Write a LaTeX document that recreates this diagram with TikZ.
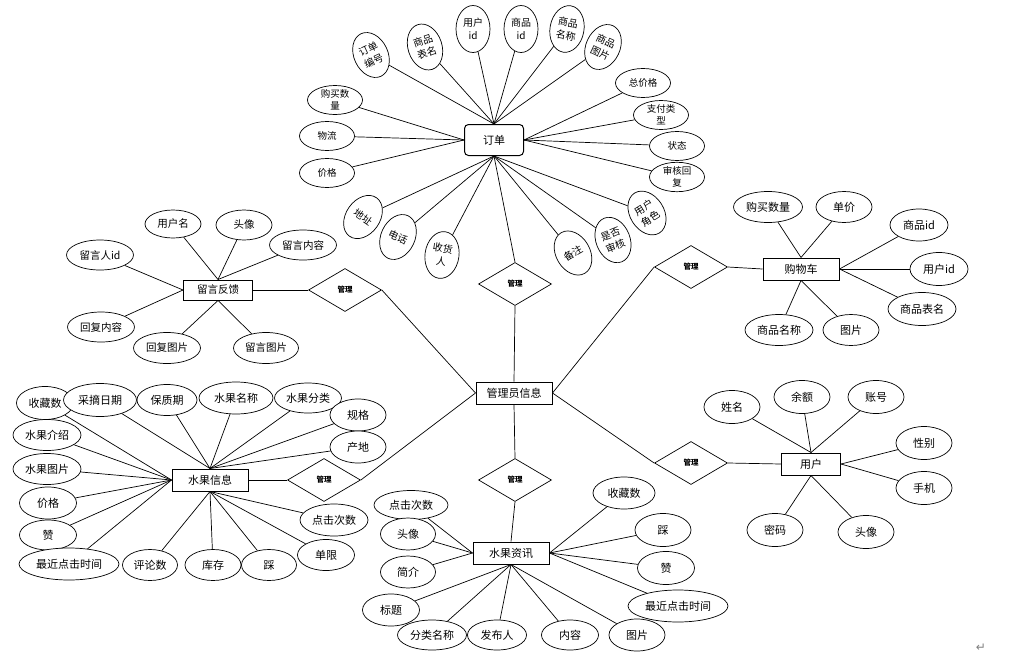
\documentclass[tikz,border=0pt]{standalone}
\usepackage{fontspec}
\setmainfont{Noto Sans CJK SC}
\newfontfamily\symfont{DejaVu Sans}
\usetikzlibrary{shapes.geometric,backgrounds}

\tikzset{
  ent/.style={draw, line width=1pt, fill=white, minimum width=76pt, minimum height=22pt, inner sep=1pt, font=\fontsize{11}{13}\selectfont},
  rel/.style={diamond, draw, line width=0.7pt, fill=white, minimum width=73pt, minimum height=43pt, inner sep=0pt, font=\bfseries\fontsize{7.5}{9}\selectfont},
  attr/.style={ellipse, draw, line width=0.7pt, fill=white, inner sep=0pt, minimum width=56pt, minimum height=31pt, align=center, font=\fontsize{11}{12}\selectfont},
  small/.style={font=\fontsize{9.5}{12}\selectfont},
  tilt/.style={attr, font=\fontsize{10}{13}\selectfont, minimum width=34pt, minimum height=47pt},
  link/.style={line width=0.7pt},
}

\begin{document}
\begin{tikzpicture}[x=1pt, y=-1pt]
\useasboundingbox (0,0) rectangle (1031,664);

\node[ent] (admin) at (514,393) {管理员信息};
\node[rel] (r-order) at (515,284) {管理};
\node[rel] (r-msg) at (345,290) {管理};
\node[rel] (r-fruit) at (324,480) {管理};
\node[rel] (r-cart) at (691,267) {管理};
\node[rel] (r-user) at (691,463) {管理};
\node[rel] (r-news) at (515,480) {管理};

% 订单
\node[ent, rounded corners=4pt, minimum width=59pt, minimum height=31pt] (order) at (494,140) {订单};
\node[tilt, rotate=25] (o-no) at (371,55) {订单\\编号};
\node[tilt, rotate=18] (o-tab) at (425,47) {商品\\表名};
\node[tilt] (o-uid) at (473,29) {用户\\id};
\node[tilt] (o-gid) at (521,29) {商品\\id};
\node[tilt, rotate=-10] (o-gname) at (567,29) {商品\\名称};
\node[tilt, rotate=-25] (o-pic) at (603,47) {商品\\图片};
\node[attr, small, minimum width=55pt, minimum height=29pt] (o-num) at (335,100) {购买数\\量};
\node[attr, small, minimum width=55pt, minimum height=29pt] (o-wl) at (327,136) {物流};
\node[attr, small, minimum width=55pt, minimum height=29pt] (o-price) at (327,173) {价格};
\node[attr, small, minimum width=55pt, minimum height=29pt] (o-total) at (643,83) {总价格};
\node[attr, small, minimum width=55pt, minimum height=29pt] (o-pay) at (661,115) {支付类\\型};
\node[attr, small, minimum width=55pt, minimum height=29pt] (o-state) at (677,146) {状态};
\node[attr, small, minimum width=55pt, minimum height=29pt] (o-audit) at (677,177) {审核回\\复};
\node[tilt, rotate=-35] (o-addr) at (363,217) {地址};
\node[tilt, rotate=-25] (o-tel) at (398,237) {电话};
\node[tilt, rotate=-8] (o-recv) at (442,255) {收货\\人};
\node[tilt, rotate=30] (o-note) at (573,253) {备注};
\node[tilt, rotate=22] (o-chk) at (613,240) {是否\\审核};
\node[tilt, rotate=32] (o-role) at (647,213) {用户\\角色};

% 留言反馈
\node[ent, minimum width=69pt, minimum height=20pt, font=\fontsize{10.5}{12}\selectfont] (msg) at (218,290) {留言反馈};
\node[attr, minimum height=28pt, font=\fontsize{10.5}{12}\selectfont] (m-name) at (173,224) {用户名};
\node[attr, minimum height=30pt, font=\fontsize{10.5}{12}\selectfont] (m-head) at (244,225) {头像};
\node[attr, minimum width=67pt, minimum height=30pt, font=\fontsize{10.5}{12}\selectfont] (m-text) at (303,245) {留言内容};
\node[attr, minimum width=67pt, minimum height=30pt, font=\fontsize{10.5}{12}\selectfont] (m-id) at (100,255) {留言人id};
\node[attr, minimum width=67pt, minimum height=30pt, font=\fontsize{10.5}{12}\selectfont] (m-rtext) at (101,327) {回复内容};
\node[attr, minimum width=67pt, minimum height=31pt, font=\fontsize{10.5}{12}\selectfont] (m-rpic) at (167,348) {回复图片};
\node[attr, minimum width=65pt, minimum height=31pt, font=\fontsize{10.5}{12}\selectfont] (m-pic) at (266,348) {留言图片};

% 购物车
\node[ent] (cart) at (801,269) {购物车};
\node[attr, minimum width=69pt] (c-num) at (768,207) {购买数量};
\node[attr] (c-price) at (844,207) {单价};
\node[attr, minimum width=58pt, minimum height=32pt] (c-gid) at (919,225) {商品id};
\node[attr, minimum width=58pt, minimum height=33pt] (c-uid) at (939,269) {用户id};
\node[attr, minimum width=68pt, minimum height=33pt] (c-tab) at (922,309) {商品表名};
\node[attr, minimum width=68pt] (c-name) at (779,330) {商品名称};
\node[attr] (c-pic) at (851,330) {图片};

% 水果信息
\node[ent] (fruit) at (210,480) {水果信息};
\node[attr, minimum width=57pt, minimum height=33pt] (f-fav) at (45,403) {收藏数};
\node[attr, minimum width=73pt, minimum height=33pt] (f-date) at (100,400) {采摘日期};
\node[attr, minimum width=60pt] (f-life) at (167,400) {保质期};
\node[attr, minimum width=74pt, minimum height=32pt] (f-name) at (236,398) {水果名称};
\node[attr, minimum width=67pt, minimum height=30pt] (f-cat) at (308,398) {水果分类};
\node[attr, minimum height=32pt] (f-spec) at (358,415) {规格};
\node[attr, minimum height=32pt] (f-orig) at (358,447) {产地};
\node[attr, minimum width=68pt] (f-intro) at (47,435) {水果介绍};
\node[attr, minimum width=68pt] (f-img) at (47,469) {水果图片};
\node[attr, minimum width=57pt, minimum height=32pt] (f-price) at (48,503) {价格};
\node[attr, minimum width=57pt, minimum height=30pt] (f-like) at (48,535) {赞};
\node[attr, minimum width=100pt, minimum height=32pt] (f-time) at (69,564) {最近点击时间};
\node[attr, minimum width=55pt] (f-cmt) at (150,565) {评论数};
\node[attr] (f-stock) at (213,565) {库存};
\node[attr, minimum width=55pt] (f-dis) at (269,565) {踩};
\node[attr, minimum width=57pt] (f-limit) at (326,555) {单限};
\node[attr, minimum width=68pt, minimum height=32pt] (f-click) at (334,520) {点击次数};

% 水果资讯
\node[ent] (news) at (511,553) {水果资讯};
\node[attr, minimum width=74pt, minimum height=29pt] (n-click) at (411,505) {点击次数};
\node[attr, minimum width=55pt, minimum height=32pt] (n-head) at (408,534) {头像};
\node[attr, minimum width=55pt, minimum height=32pt] (n-brief) at (408,572) {简介};
\node[attr, minimum width=57pt, minimum height=32pt] (n-title) at (391,610) {标题};
\node[attr, minimum width=69pt, minimum height=30pt] (n-cat) at (432,635) {分类名称};
\node[attr, minimum width=59pt, minimum height=30pt] (n-pub) at (497,635) {发布人};
\node[attr, minimum width=57pt, minimum height=30pt] (n-text) at (570,635) {内容};
\node[attr, minimum height=32pt] (n-pic) at (637,635) {图片};
\node[attr, minimum width=100pt, minimum height=32pt] (n-time) at (678,606) {最近点击时间};
\node[attr, minimum width=57pt, minimum height=33pt] (n-like) at (666,568) {赞};
\node[attr, minimum height=33pt] (n-dis) at (663,530) {踩};
\node[attr, minimum width=62pt, minimum height=32pt] (n-fav) at (624,493) {收藏数};

% 用户
\node[ent, minimum width=59pt] (user) at (811,464) {用户};
\node[attr, minimum height=33pt] (u-name) at (732,407) {姓名};
\node[attr, minimum height=33pt] (u-bal) at (802,397) {余额};
\node[attr, minimum height=33pt] (u-acc) at (876,397) {账号};
\node[attr, minimum height=33pt] (u-sex) at (924,443) {性别};
\node[attr, minimum height=33pt] (u-tel) at (924,488) {手机};
\node[attr, minimum height=33pt] (u-pwd) at (775,530) {密码};
\node[attr, minimum height=33pt] (u-head) at (866,532) {头像};

\node[font=\symfont\fontsize{12}{12}\selectfont, text=gray] (ret) at (981,648) {↵};

\begin{scope}[on background layer]
\foreach \a in {o-no,o-tab,o-uid,o-gid,o-gname,o-pic} \draw[link] (order.north) -- (\a);
\foreach \a in {o-num,o-wl,o-price} \draw[link] (order.west) -- (\a);
\foreach \a in {o-total,o-pay,o-state,o-audit} \draw[link] (order.east) -- (\a);
\foreach \a in {o-addr,o-tel,o-recv,o-note,o-chk,o-role} \draw[link] (order.south) -- (\a);
\foreach \a in {m-name,m-head,m-text} \draw[link] (msg.north) -- (\a);
\foreach \a in {m-id,m-rtext} \draw[link] (msg.west) -- (\a);
\foreach \a in {m-rpic,m-pic} \draw[link] (msg.south) -- (\a);
\foreach \a in {c-num,c-price} \draw[link] (cart.north) -- (\a);
\foreach \a in {c-gid,c-uid,c-tab} \draw[link] (cart.east) -- (\a);
\foreach \a in {c-name,c-pic} \draw[link] (cart.south) -- (\a);
\foreach \a in {f-date,f-life,f-name,f-cat,f-spec,f-orig} \draw[link] (fruit.north) -- (\a);
\foreach \a in {f-fav,f-intro,f-img,f-price,f-like,f-time} \draw[link] (fruit.west) -- (\a);
\foreach \a in {f-cmt,f-stock,f-dis,f-limit,f-click} \draw[link] (fruit.south) -- (\a);
\foreach \a in {n-click,n-head,n-brief} \draw[link] (news.west) -- (\a);
\foreach \a in {n-title,n-cat,n-pub,n-text,n-pic} \draw[link] (news.south) -- (\a);
\foreach \a in {n-fav,n-dis,n-like,n-time} \draw[link] (news.east) -- (\a);
\foreach \a in {u-name,u-bal,u-acc} \draw[link] (user.north) -- (\a);
\foreach \a in {u-sex,u-tel} \draw[link] (user.east) -- (\a);
\foreach \a in {u-pwd,u-head} \draw[link] (user.south) -- (\a);
\draw[link] (order.south) -- (r-order.north);
\draw[link] (r-order.south) -- (admin.north);
\draw[link] (admin.south) -- (r-news.north);
\draw[link] (r-news.south) -- (news.north);
\draw[link] (msg.east) -- (r-msg.west);
\draw[link] (r-msg.east) -- (admin.west);
\draw[link] (fruit.east) -- (r-fruit.west);
\draw[link] (r-fruit.east) -- (admin.west);
\draw[link] (admin.east) -- (r-cart.west);
\draw[link] (r-cart.east) -- (cart.west);
\draw[link] (admin.east) -- (r-user.west);
\draw[link] (r-user.east) -- (user.west);
\end{scope}
\end{tikzpicture}
\end{document}
